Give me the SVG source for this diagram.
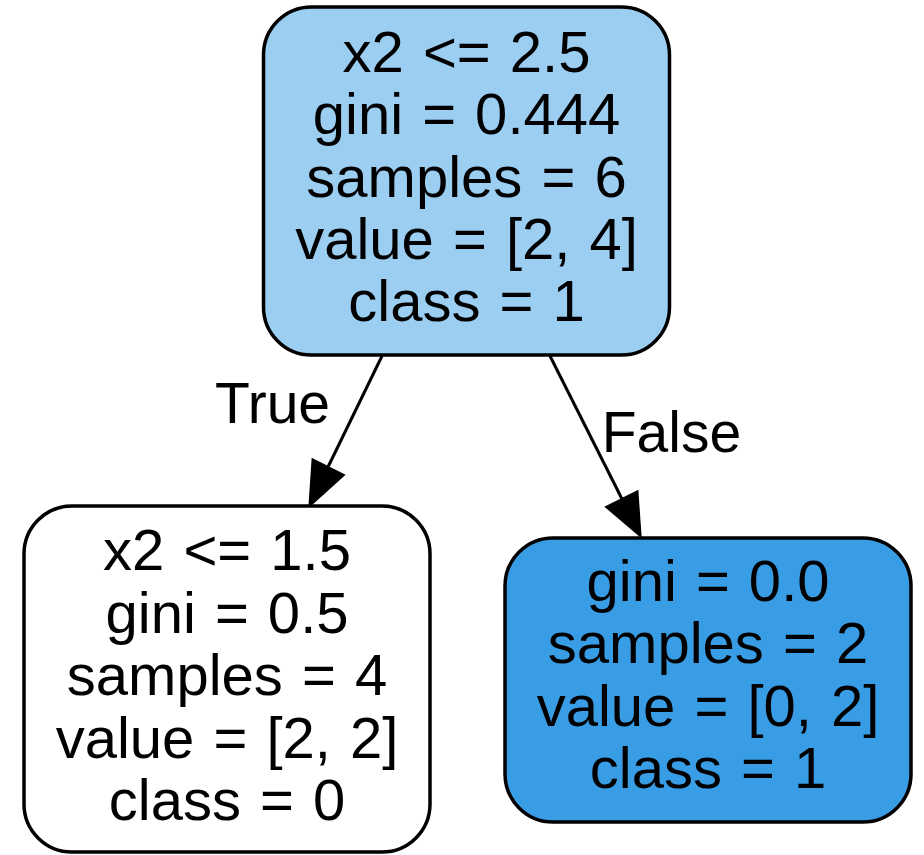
<svg xmlns="http://www.w3.org/2000/svg" width="924" height="855" viewBox="0 0 924 855">
<style>
.box{stroke:#000;stroke-width:3.5}
.t{font-family:"Liberation Sans",Arial,sans-serif;font-size:58px;text-anchor:middle;fill:#000;word-spacing:3px}
.lbl{font-family:"Liberation Sans",Arial,sans-serif;font-size:57px;text-anchor:middle;fill:#000}
.edge{stroke:#000;stroke-width:3;fill:none}
.head{fill:#000;stroke:#000;stroke-width:3;stroke-linejoin:miter}
</style>
<rect x="0" y="0" width="924" height="855" fill="#fff"/>
<g id="connectors">
  <g id="edge-true">
    <line class="edge" x1="382" y1="356" x2="328" y2="467"/>
    <polygon class="head" points="310,505 313,460 343,475"/>
    <text class="lbl" x="272.5" y="423">True</text>
  </g>
  <g id="edge-false">
    <line class="edge" x1="550" y1="356" x2="622" y2="499"/>
    <polygon class="head" points="640,535 607,507 637,492"/>
    <text class="lbl" x="671.5" y="452">False</text>
  </g>
</g>
<g id="node0">
  <rect class="box" x="263.5" y="7" width="406" height="348" rx="48" ry="48" fill="#9ccef2"/>
  <text class="t" x="466.5" y="72">x2 &lt;= 2.5</text>
  <text class="t" x="466.5" y="134">gini = 0.444</text>
  <text class="t" x="466.5" y="196.5">samples = 6</text>
  <text class="t" x="466.5" y="259">value = [2, 4]</text>
  <text class="t" x="466.5" y="321">class = 1</text>
</g>
<g id="node1">
  <rect class="box" x="24" y="506" width="406" height="346" rx="48" ry="48" fill="#ffffff"/>
  <text class="t" x="227" y="570">x2 &lt;= 1.5</text>
  <text class="t" x="227" y="632.5">gini = 0.5</text>
  <text class="t" x="227" y="695">samples = 4</text>
  <text class="t" x="227" y="757.5">value = [2, 2]</text>
  <text class="t" x="227" y="820">class = 0</text>
</g>
<g id="node2">
  <rect class="box" x="505" y="538" width="406" height="284" rx="48" ry="48" fill="#399de5"/>
  <text class="t" x="708" y="600.5">gini = 0.0</text>
  <text class="t" x="708" y="663">samples = 2</text>
  <text class="t" x="708" y="725.5">value = [0, 2]</text>
  <text class="t" x="708" y="788">class = 1</text>
</g>
</svg>
